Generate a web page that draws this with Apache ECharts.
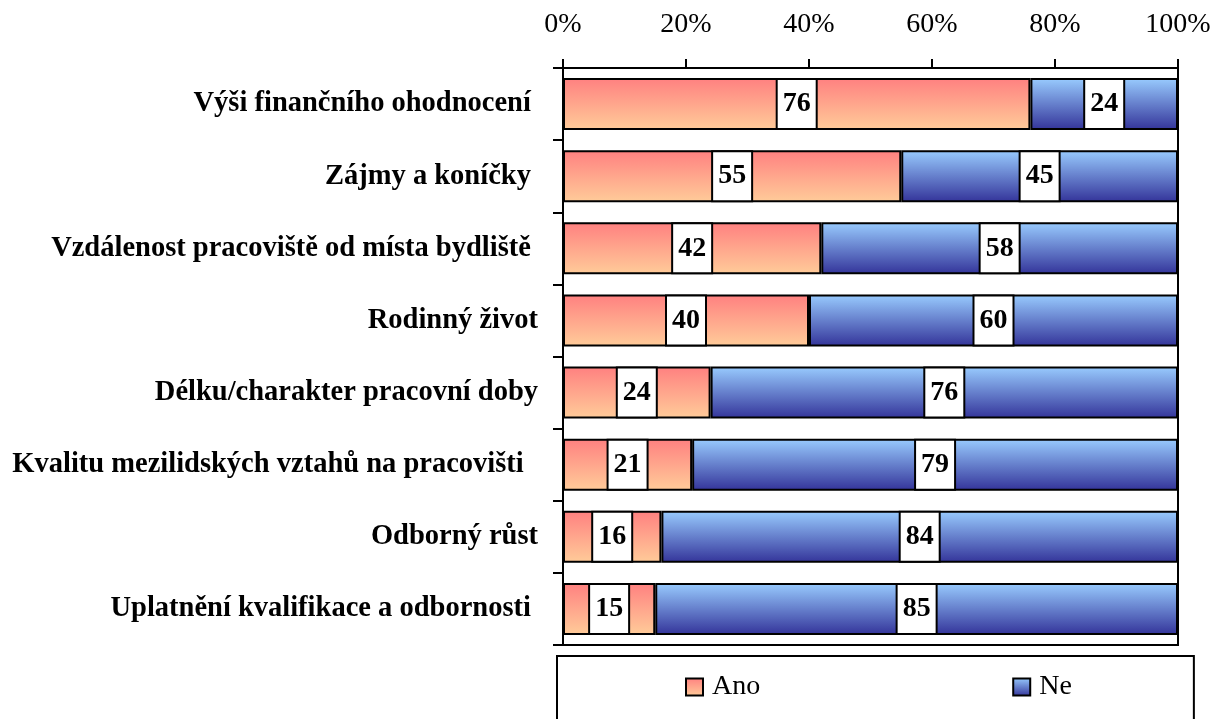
<!DOCTYPE html>
<html>
<head>
<meta charset="utf-8">
<style>
  html, body { margin: 0; padding: 0; background: #fff; }
  #chart { width: 1211px; height: 719px; }
</style>
<script src="https://cdn.jsdelivr.net/npm/echarts@6/dist/echarts.min.js"></script>
</head>
<body>
<div id="chart"></div>
<script>
var categories = [
    "Výši finančního ohodnocení ",
    "Zájmy a koníčky ",
    "Vzdálenost pracoviště od místa bydliště ",
    "Rodinný život",
    "Délku/charakter pracovní doby",
    "Kvalitu mezilidských vztahů na pracovišti  ",
    "Odborný růst",
    "Uplatnění kvalifikace a odbornosti "
]
var anoValues = [76, 55, 42, 40, 24, 21, 16, 15]
var neValues = [24, 45, 58, 60, 76, 79, 84, 85]
var seriesNames = ["Ano", "Ne"]

var serif = "'Liberation Serif', 'Times New Roman', serif"

var chartDom = document.getElementById("chart")
var myChart = echarts.init(chartDom)

function grad(top, bottom) {
    return new echarts.graphic.LinearGradient(0, 0, 0, 1, [
        { offset: 0, color: top },
        { offset: 1, color: bottom }
    ])
}

var boxLabel = {
    show: true,
    position: "inside",
    fontFamily: serif,
    fontSize: 28,
    fontWeight: "bold",
    color: "#000",
    backgroundColor: "#fff",
    borderColor: "#000",
    borderWidth: 2,
    width: 34,
    height: 48,
    lineHeight: 48,
    align: "center",
    verticalAlign: "middle",
    padding: [0, 2]
}

var option = {
    animation: false,
    grid: {
        left: 563,
        right: 33,
        top: 68,
        bottom: 74,
        outerBoundsMode: "none",
        show: true,
        borderColor: "#000",
        borderWidth: 2,
        backgroundColor: "transparent"
    },
    legend: {
        data: seriesNames,
        top: 656,
        left: 557,
        icon: "rect",
        itemWidth: 17,
        itemHeight: 17,
        itemGap: 252,
        padding: [17, 122, 60, 128],
        borderColor: "#000",
        borderWidth: 2,
        itemStyle: { borderColor: "#000", borderWidth: 2 },
        textStyle: { fontFamily: serif, fontSize: 28, color: "#000", padding: [0, 0, 0, 4] }
    },
    xAxis: {
        type: "value",
        position: "top",
        min: 0,
        max: 100,
        interval: 20,
        axisLine: { show: true, lineStyle: { color: "#000", width: 2 } },
        axisTick: { show: true, length: 9, lineStyle: { color: "#000", width: 2 } },
        splitLine: { show: false },
        axisLabel: {
            margin: 29,
            fontFamily: serif,
            fontSize: 28,
            color: "#000",
            formatter: "{value}%"
        }
    },
    yAxis: {
        type: "category",
        inverse: true,
        data: categories,
        axisLine: { show: true, lineStyle: { color: "#000", width: 2 } },
        axisTick: { show: true, length: 10, lineStyle: { color: "#000", width: 2 } },
        axisLabel: {
            margin: 25,
            fontFamily: serif,
            fontSize: 28.5,
            fontWeight: "bold",
            color: "#000"
        }
    },
    series: [
        {
            name: seriesNames[0],
            type: "bar",
            stack: "total",
            barWidth: 52,
            data: anoValues,
            itemStyle: {
                color: grad("#ff8080", "#ffcc99"),
                borderColor: "#000",
                borderWidth: 2
            },
            label: boxLabel
        },
        {
            name: seriesNames[1],
            type: "bar",
            stack: "total",
            barWidth: 52,
            data: neValues,
            itemStyle: {
                color: grad("#99ccff", "#333399"),
                borderColor: "#000",
                borderWidth: 2
            },
            label: boxLabel
        }
    ]
}

option && myChart.setOption(option)
</script>
</body>
</html>
